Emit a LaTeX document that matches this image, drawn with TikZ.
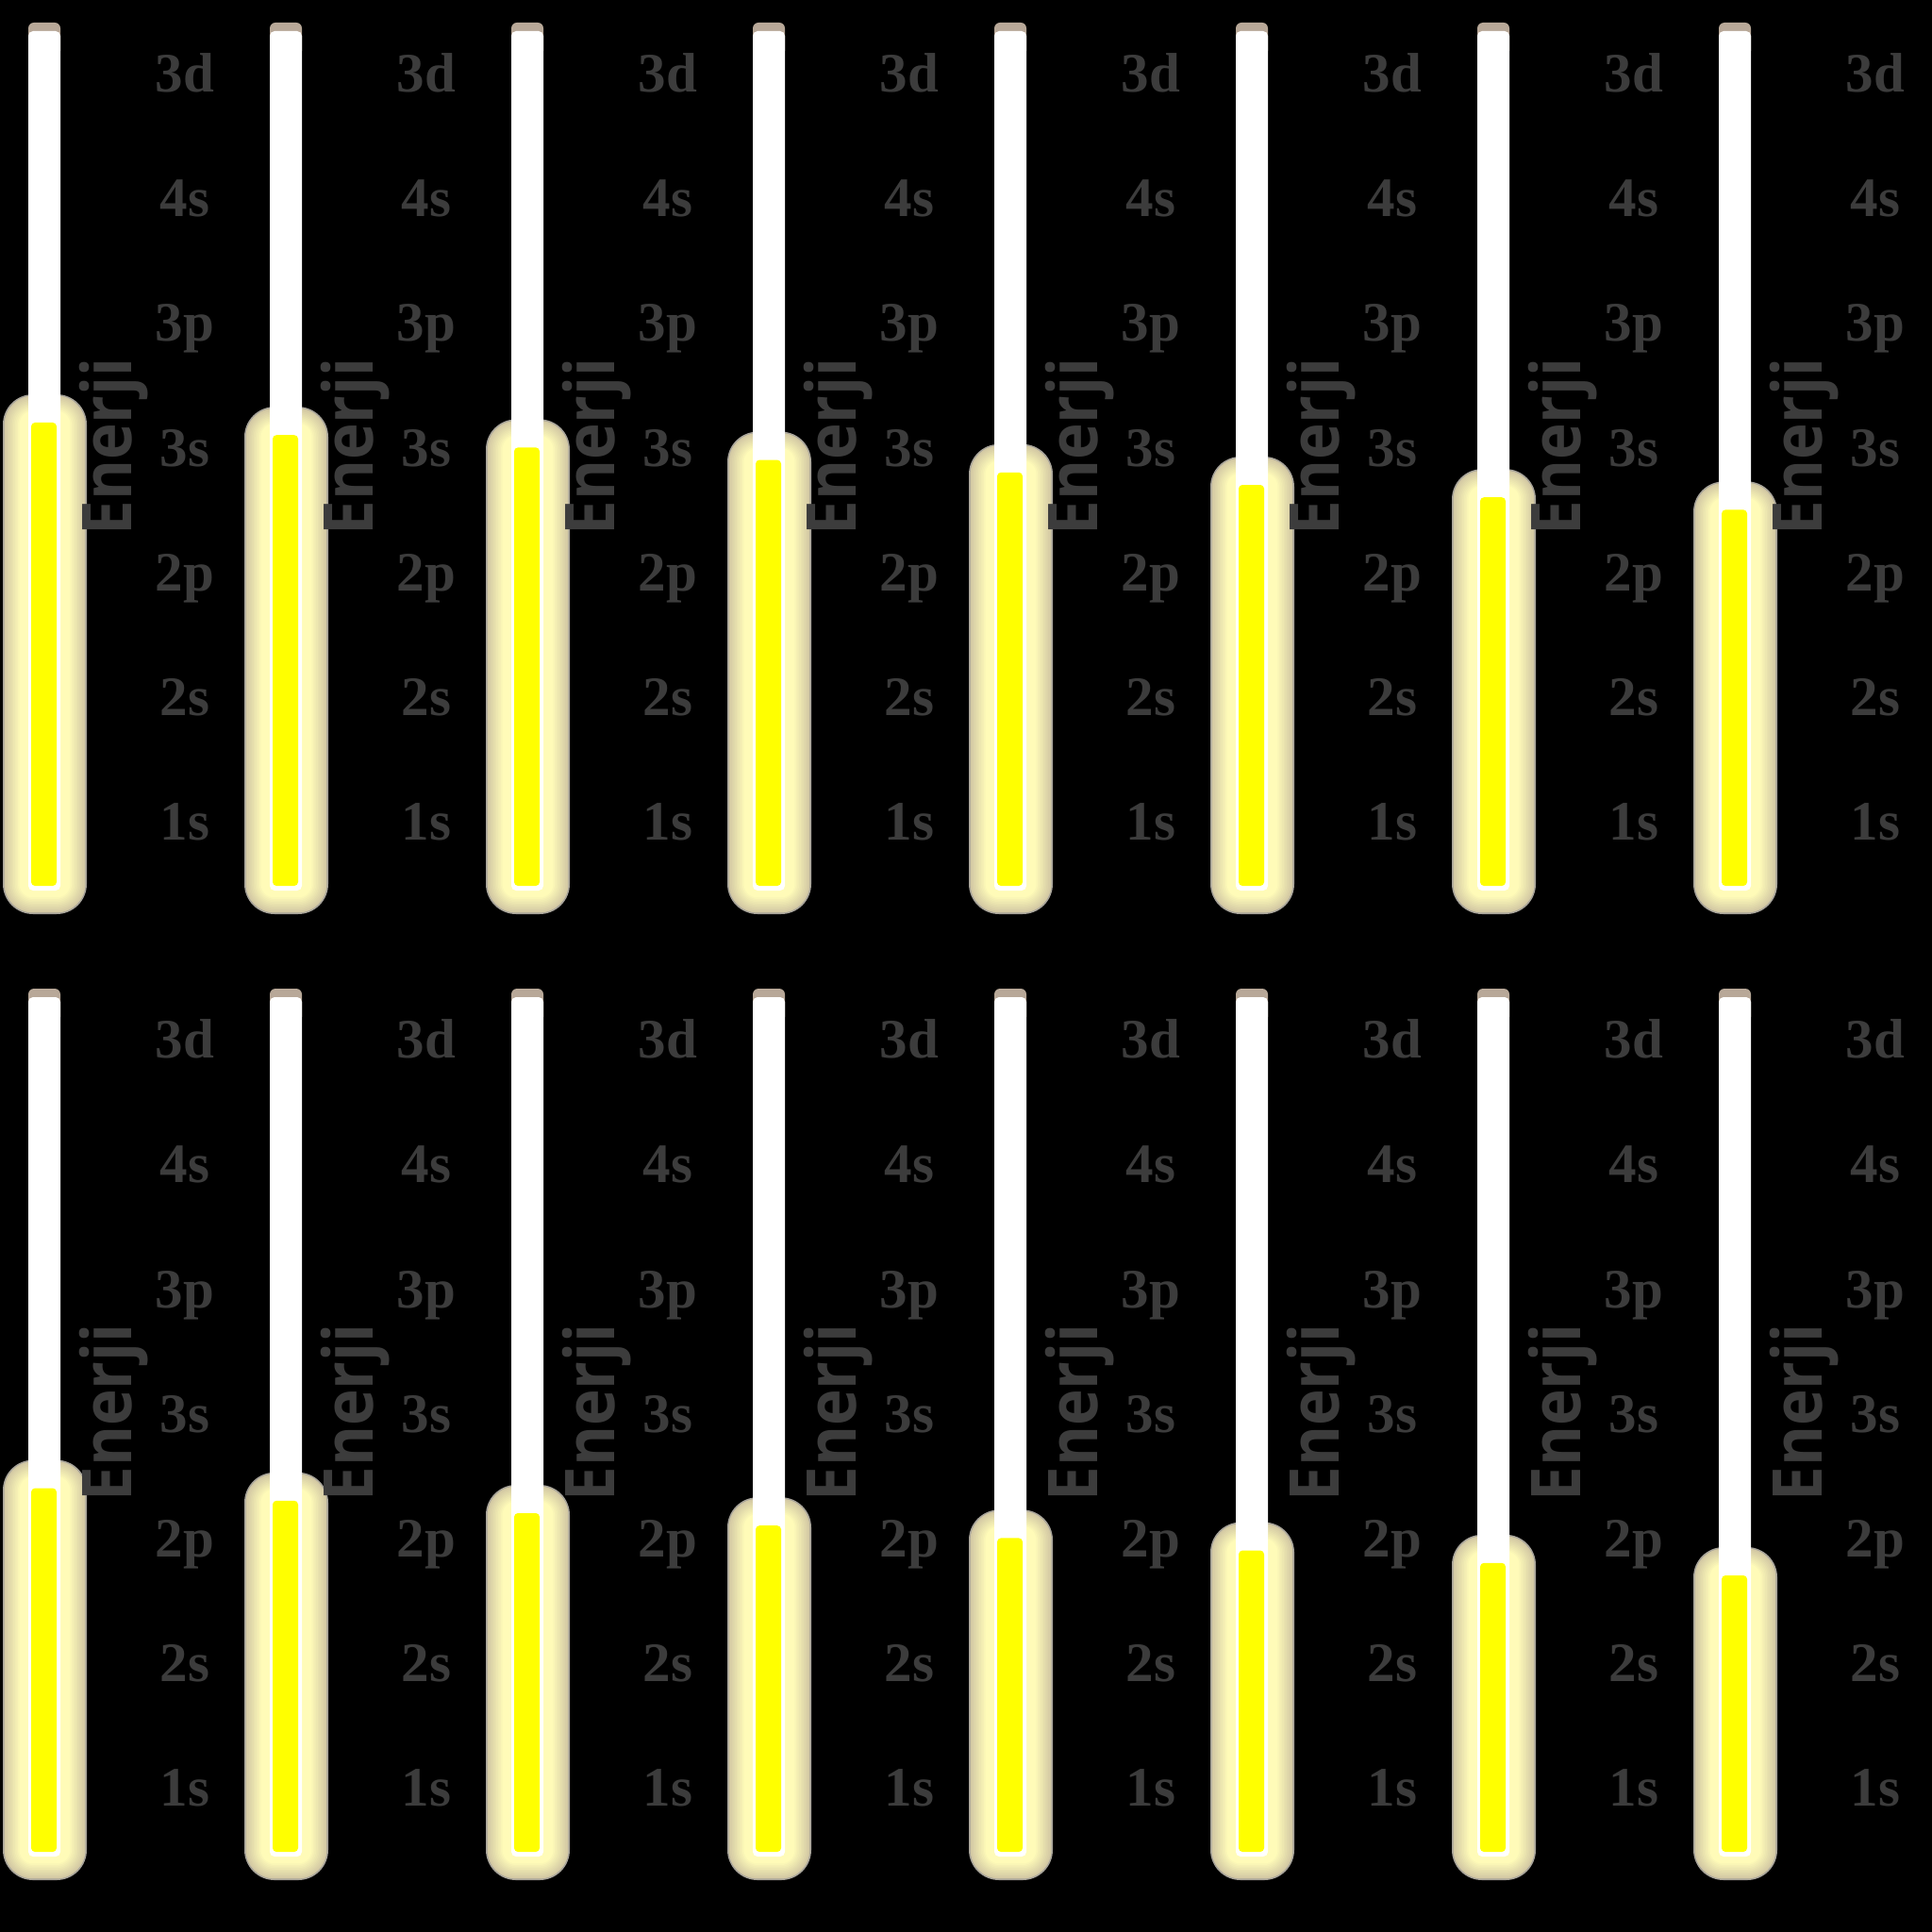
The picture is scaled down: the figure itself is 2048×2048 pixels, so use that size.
\documentclass[tikz,border=0pt]{standalone}
\usepackage{fontspec}
\usepackage{graphicx}
\setmainfont{Liberation Serif}
\newfontfamily\enfont{Open Sans}
\definecolor{lbl}{HTML}{3C3C3C}
\definecolor{glowedge}{HTML}{A8A49A}
\definecolor{glowout}{HTML}{CFC4A2}
\definecolor{glowin}{HTML}{FFFBB8}
\definecolor{tubecap}{HTML}{B8A898}
\definecolor{barfill}{HTML}{FFFF00}
\tikzset{
  orb/.style={text=lbl, anchor=base, inner sep=0pt, font=\bfseries\fontsize{29.5}{29.5}\selectfont},
  enj/.style={text=lbl, anchor=base west, rotate=90, inner sep=0pt, font=\enfont\bfseries\fontsize{36.4}{36.4}\selectfont},
}
\begin{document}
\begin{tikzpicture}[x=0.5pt,y=-0.5pt]
\fill[black] (0,0) rectangle (2048,2048);
\useasboundingbox (0,0) rectangle (2048,2048);
\foreach \r in {0,1} {
  \foreach \c in {0,...,7} {
    \pgfmathsetmacro\k{\c+8*\r}
    \pgfmathsetmacro\L{448+13.2*\k}
    \begin{scope}[shift={(\c*256,\r*1024)}]
      % glow capsule
      \fill[glowedge, rounded corners=16pt] (3,\L-30) rectangle (92,969);
      \foreach \i in {1,...,14} {
        \pgfmathtruncatemacro\p{min(100,\i*100/11)}
        \pgfmathsetmacro\d{\i*1.6}
        \pgfmathsetmacro\rr{max(1,(32-\d)/2)}
        \fill[glowin!\p!glowout, rounded corners=\rr pt] (3+\d,\L-30+\d) rectangle (92-\d,969-\d);
      }
      % tube
      \fill[tubecap, rounded corners=3pt] (30,24) rectangle (64,60);
      \fill[white, rounded corners=2.5pt] (30,33) rectangle (64,944);
      % level
      \fill[barfill, rounded corners=2pt] (33,\L) rectangle (60,939);
      % labels
      \foreach \t [count=\j from 0] in {3d,4s,3p,3s,2p,2s,1s} {
        \node[orb] (o-\r-\c-\j) at (196,{97.6+132.2*\j}) {\t};
      }
      \node[enj] (e-\r-\c) at (139,568) {\scalebox{0.9}[1]{Enerji}};
    \end{scope}
  }
}
\end{tikzpicture}
\end{document}
